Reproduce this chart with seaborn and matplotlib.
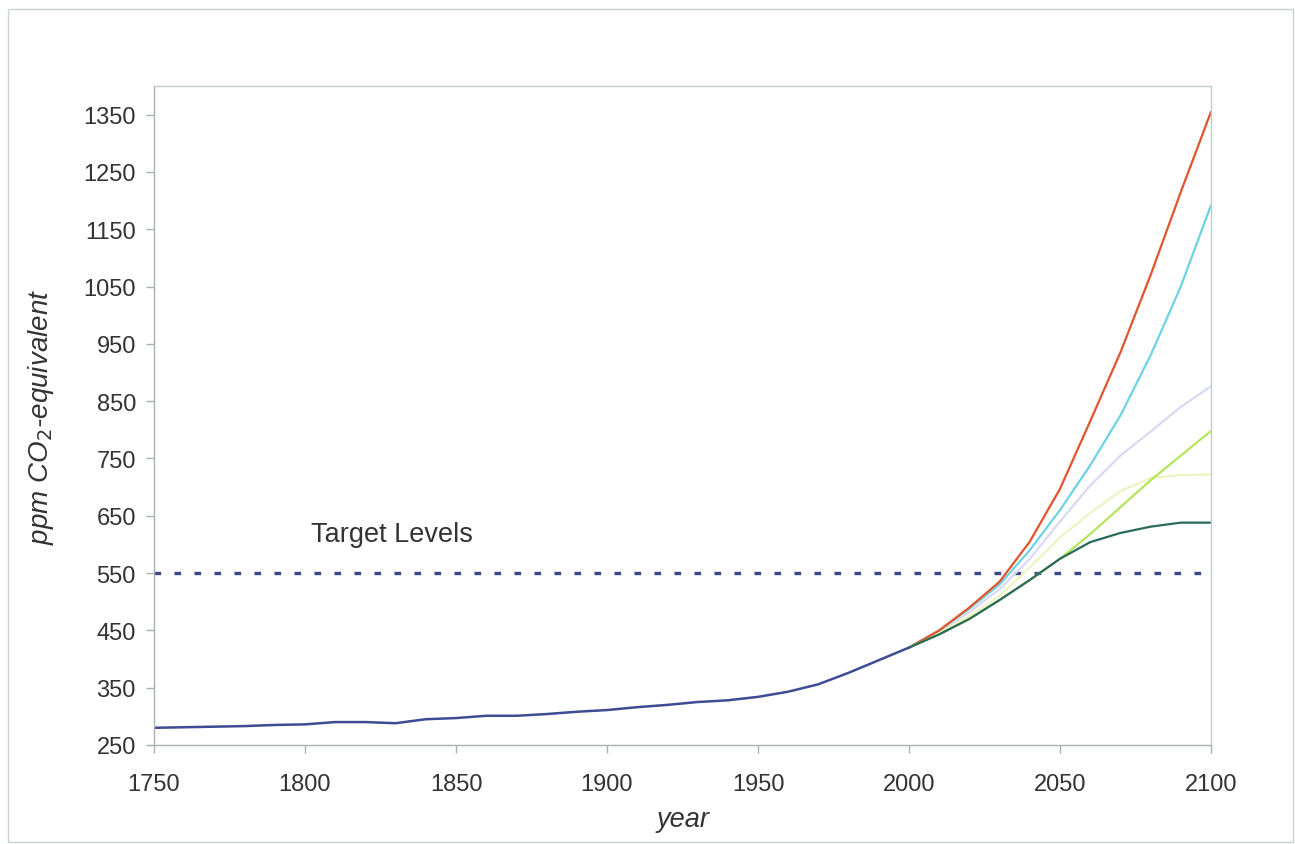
import numpy as np
import pandas as pd
import matplotlib
matplotlib.use("Agg")
import matplotlib.pyplot as plt
import seaborn as sns
from matplotlib.patches import Rectangle

# ---- data ----
hist_years = [1750, 1760, 1770, 1780, 1790, 1800, 1810, 1820, 1830, 1840, 1850,
              1860, 1870, 1880, 1890, 1900, 1910, 1920, 1930, 1940, 1950, 1960,
              1970, 1980, 1990, 2000]
hist_ppm = [280, 281, 282, 283, 285, 286, 290, 290, 288, 295, 297,
            301, 301, 304, 308, 311, 316, 320, 325, 328, 334, 343,
            356, 376, 398, 420]

proj_years = [2000, 2010, 2020, 2030, 2040, 2050, 2060, 2070, 2080, 2090, 2100]
proj_red = [420, 450, 490, 535, 605, 697, 815, 935, 1070, 1215, 1355]
proj_cyan = [420, 450, 488, 530, 590, 660, 738, 825, 930, 1050, 1192]
proj_lavender = [420, 448, 482, 522, 575, 640, 703, 755, 797, 840, 876]
proj_paleyellow = [420, 445, 475, 510, 560, 612, 655, 693, 716, 721, 722]
proj_lime = [420, 443, 470, 503, 538, 575, 618, 665, 712, 755, 798]
proj_darkgreen = [420, 443, 470, 503, 538, 575, 604, 620, 631, 638, 638]

target_years = [1750, 2100]
target_ppm = [550, 550]

x_ticks = [1750, 1800, 1850, 1900, 1950, 2000, 2050, 2100]
y_ticks = [250, 350, 450, 550, 650, 750, 850, 950, 1050, 1150, 1250, 1350]

# ---- build table ----
series = {
    "lavender": proj_lavender,
    "paleyellow": proj_paleyellow,
    "cyan": proj_cyan,
    "red": proj_red,
    "lime": proj_lime,
    "darkgreen": proj_darkgreen,
}
rows = []
for name, vals in series.items():
    for y, v in zip(proj_years, vals):
        rows.append({"year": y, "ppm": v, "scenario": name})
proj_df = pd.DataFrame(rows)
hist_df = pd.DataFrame({"year": hist_years, "ppm": hist_ppm})
target_df = pd.DataFrame({"year": target_years, "ppm": target_ppm})

palette = {
    "lavender": "#d9d9f2",
    "paleyellow": "#eef3c2",
    "cyan": "#6cd2e4",
    "red": "#e2542b",
    "lime": "#b5e65a",
    "darkgreen": "#2b6a5a",
}

sns.set_theme(style="white")
plt.rcParams["font.family"] = ["Liberation Sans", "DejaVu Sans"]

fig = plt.figure(figsize=(12.95, 8.45), dpi=100)
ax = fig.add_axes([154 / 1295, 1 - 746 / 845, (1211 - 154) / 1295, (746 - 87) / 845])

# outer frame
fig.patches.append(Rectangle((8 / 1295, 1 - 843 / 845), (1293 - 8) / 1295, (843 - 10) / 845,
                             transform=fig.transFigure, fill=False,
                             edgecolor="#c9d2d2", linewidth=1.0))

sns.lineplot(data=target_df, x="year", y="ppm", ax=ax, color="#3a4888",
             linewidth=2.4, dashes=False, clip_on=False)
ax.lines[-1].set_dashes((2, 4))

sns.lineplot(data=proj_df, x="year", y="ppm", hue="scenario", palette=palette,
             hue_order=list(series.keys()), ax=ax, linewidth=1.6, legend=False)
sns.lineplot(data=hist_df, x="year", y="ppm", ax=ax, color="#3e4b95", linewidth=1.8)

ax.set_xlim(1750, 2100)
ax.set_ylim(250, 1400)
ax.set_xticks(x_ticks)
ax.set_yticks(y_ticks)
ax.tick_params(axis="both", labelsize=17, labelcolor="#333333", length=6,
               color="#a8b2b4", width=1, direction="out", bottom=True, left=True)
ax.tick_params(axis="y", pad=7)
ax.tick_params(axis="x", pad=14)
for s in ax.spines.values():
    s.set_color("#c3cccc")
    s.set_linewidth(1.0)
ax.spines["left"].set_color("#a8b2b4")
ax.spines["bottom"].set_color("#a8b2b4")

ax.set_xlabel("year", fontsize=19.5, style="italic", color="#333333", labelpad=8)
ax.set_ylabel("ppm CO$_2$-equivalent", fontsize=20, style="italic", color="#333333", labelpad=20)

ax.text(1802, 619, "Target Levels", fontsize=19.5, color="#333333", va="center", ha="left")

fig.savefig("out.png", dpi=100)
